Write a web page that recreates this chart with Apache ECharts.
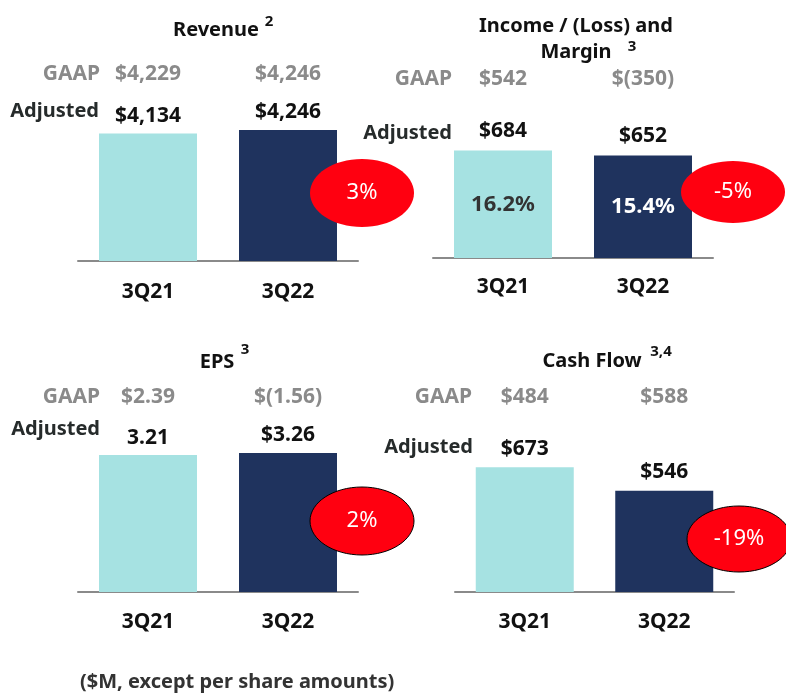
<!DOCTYPE html>
<html>
<head>
<meta charset="utf-8">
<script src="https://cdn.jsdelivr.net/npm/echarts@6/dist/echarts.min.js"></script>
<style>
html,body{margin:0;padding:0;background:#fff;}
#c{width:786px;height:694px;}
</style>
</head>
<body>
<div id="c"></div>
<script>
// ---- data ----
const categories = ['3Q21', '3Q22'];
const panelTitles = ['Revenue', 'Income / (Loss) and\nMargin', 'EPS', 'Cash Flow'];
const titleNotes = ['2', '3', '3', '3,4'];
const revenueAdj = [4134, 4246];
const revenueAdjLabels = ['$4,134', '$4,246'];
const revenueGaap = ['$4,229', '$4,246'];
const incomeAdj = [684, 652];
const incomeAdjLabels = ['$684', '$652'];
const incomeGaap = ['$542', '$(350)'];
const incomeMargin = ['16.2%', '15.4%'];
const epsAdj = [3.21, 3.26];
const epsAdjLabels = ['3.21', '$3.26'];
const epsGaap = ['$2.39', '$(1.56)'];
const cashAdj = [673, 546];
const cashAdjLabels = ['$673', '$546'];
const cashGaap = ['$484', '$588'];
const changes = ['3%', '-5%', '2%', '-19%'];
const footnote = '($M, except per share amounts)';

// ---- style / layout ----
const FONT = '"Noto Sans", sans-serif';
const LIGHT = '#a6e2e2';
const DARK = '#1f335e';
const RED = '#ff0010';
const GAAP_C = '#8a8a8a';
const ADJ_C = '#262b2b';

const grids = [
  {left: 78,  top: 101, width: 280, height: 160},
  {left: 433, top: 98,  width: 280, height: 160},
  {left: 78,  top: 432, width: 280, height: 160},
  {left: 455, top: 432, width: 279, height: 160}
];
const yMax = [5186, 1018, 3.75, 863];
const topMargins = [16, 8, 24, 24];
const botMargins = [21, 19, 20, 20];
const gaapRows = [revenueGaap, incomeGaap, epsGaap, cashGaap];
const adjVals = [revenueAdj, incomeAdj, epsAdj, cashAdj];
const adjLabels = [revenueAdjLabels, incomeAdjLabels, epsAdjLabels, cashAdjLabels];
const labelDist = [7, 9, 7, 8];

const xAxes = [], yAxes = [], series = [];
grids.forEach((g, i) => {
  xAxes.push({
    type: 'category', gridIndex: i, data: categories, position: 'bottom',
    axisLine: {lineStyle: {color: '#8a8a8a', width: 2}},
    axisTick: {show: false},
    axisLabel: {color: '#111', fontFamily: FONT, fontWeight: 'bold', fontSize: 21, margin: botMargins[i]}
  });
  xAxes.push({
    type: 'category', gridIndex: i, data: gaapRows[i], position: 'top',
    axisLine: {show: false}, axisTick: {show: false}, splitLine: {show: false},
    axisLabel: {color: GAAP_C, fontFamily: FONT, fontWeight: 'bold', fontSize: 21, margin: topMargins[i]}
  });
  yAxes.push({type: 'value', gridIndex: i, min: 0, max: yMax[i], show: false, splitLine: {show: false}});
  series.push({
    type: 'bar', xAxisIndex: i * 2, yAxisIndex: i, barWidth: 98,
    data: adjVals[i].map((v, k) => ({value: v, itemStyle: {color: k === 0 ? LIGHT : DARK}})),
    label: {
      show: true, position: 'top', distance: labelDist[i],
      color: '#111', fontFamily: FONT, fontWeight: 'bold', fontSize: 21,
      formatter: p => adjLabels[i][p.dataIndex]
    },
    animation: false
  });
});
// margin labels inside income bars
series.push({
  type: 'bar', xAxisIndex: 2, yAxisIndex: 1, barWidth: 98, barGap: '-100%',
  data: incomeAdj.map((v, k) => ({
    value: v, itemStyle: {color: 'rgba(0,0,0,0)'},
    label: {color: k === 0 ? '#333' : '#fff'}
  })),
  label: {show: true, position: 'inside', fontFamily: FONT, fontWeight: 'bold', fontSize: 22,
    formatter: p => incomeMargin[p.dataIndex]},
  animation: false, z: 5
});

const titles = [
  {x: 216, y: 30}, {x: 576, y: 39}, {x: 217, y: 362}, {x: 592, y: 361}
];
const notes = [
  {x: 269, y: 22}, {x: 632, y: 47}, {x: 245, y: 350}, {x: 661, y: 352}
];
const gaapPos = [{x: 100, y: 74}, {x: 452, y: 79}, {x: 100, y: 397}, {x: 472, y: 397}];
const adjPos = [{x: 99, y: 111}, {x: 452, y: 133}, {x: 100, y: 429}, {x: 473, y: 447}];
const ell = [
  {cx: 362, cy: 193, rx: 52, ry: 34, border: false},
  {cx: 733, cy: 192, rx: 52, ry: 31, border: false},
  {cx: 362, cy: 521, rx: 52, ry: 34, border: true},
  {cx: 739, cy: 539, rx: 52, ry: 33, border: true}
];

const graphic = [];
titles.forEach((t, i) => {
  graphic.push({type: 'text', x: t.x, y: t.y, z: 100, style: {
    text: panelTitles[i], fill: '#111', font: 'bold 20px ' + FONT,
    textAlign: 'center', textVerticalAlign: 'middle', lineHeight: 26}});
  graphic.push({type: 'text', x: notes[i].x, y: notes[i].y, z: 100, style: {
    text: titleNotes[i], fill: '#111', font: 'bold 15px ' + FONT,
    textAlign: 'center', textVerticalAlign: 'middle'}});
  graphic.push({type: 'text', x: gaapPos[i].x, y: gaapPos[i].y, z: 100, style: {
    text: 'GAAP', fill: GAAP_C, font: 'bold 21px ' + FONT,
    textAlign: 'right', textVerticalAlign: 'middle'}});
  graphic.push({type: 'text', x: adjPos[i].x, y: adjPos[i].y, z: 100, style: {
    text: 'Adjusted', fill: ADJ_C, font: 'bold 20px ' + FONT,
    textAlign: 'right', textVerticalAlign: 'middle'}});
  const e = ell[i];
  graphic.push({type: 'ellipse', z: 100, shape: {cx: e.cx, cy: e.cy, rx: e.rx, ry: e.ry},
    style: {fill: RED, stroke: e.border ? '#000' : null, lineWidth: e.border ? 1 : 0}});
  graphic.push({type: 'text', x: e.cx, y: e.cy, z: 101, style: {
    text: changes[i], fill: '#fff', font: '22px ' + FONT,
    textAlign: 'center', textVerticalAlign: 'middle'}});
});
graphic.push({type: 'text', x: 80, y: 682, z: 100, style: {
  text: footnote, fill: '#333', font: 'bold 20px ' + FONT,
  textAlign: 'left', textVerticalAlign: 'middle'}});

const chart = echarts.init(document.getElementById('c'), null, {renderer: 'canvas'});
chart.setOption({
  animation: false,
  backgroundColor: '#fff',
  grid: grids,
  xAxis: xAxes,
  yAxis: yAxes,
  series: series,
  graphic: graphic
});
</script>
</body>
</html>
